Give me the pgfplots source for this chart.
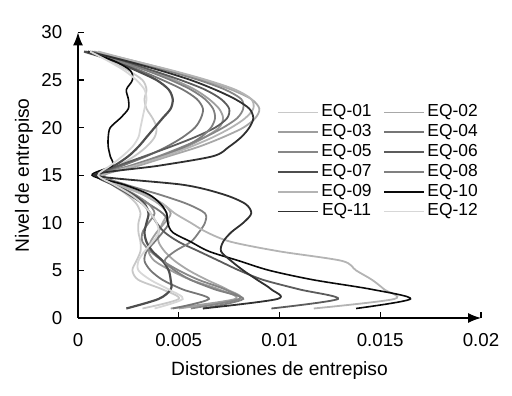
\documentclass[border=0pt]{standalone}
\usepackage{fontspec}
\setmainfont{Liberation Sans}
\usepackage{pgfplots}
\usepackage{pgfplotstable}
\pgfplotsset{compat=1.18}
\usetikzlibrary{arrows.meta}

\definecolor{c01}{RGB}{200,200,200}
\definecolor{c02}{RGB}{168,168,168}
\definecolor{c03}{RGB}{158,158,158}
\definecolor{c04}{RGB}{118,118,118}
\definecolor{c05}{RGB}{135,135,135}
\definecolor{c06}{RGB}{92,92,92}
\definecolor{c07}{RGB}{78,78,78}
\definecolor{c08}{RGB}{128,128,128}
\definecolor{c09}{RGB}{180,180,180}
\definecolor{c10}{RGB}{10,10,10}
\definecolor{c11}{RGB}{48,48,48}
\definecolor{c12}{RGB}{215,215,215}

\pgfplotstableread{
y e01 e02 e03 e04 e05 e06 e07 e08 e09 e10 e11 e12
1 0.0032 0.0050 0.0046 0.0047 0.0056 0.0096 0.0024 0.0062 0.0117 0.0138 0.0062 0.0038
2 0.0050 0.0080 0.0078 0.0065 0.0080 0.0129 0.0040 0.0082 0.0157 0.0165 0.0099 0.0052
3 0.0042 0.0074 0.0070 0.0052 0.0073 0.0110 0.0046 0.0068 0.0152 0.0146 0.0096 0.0045
4 0.0030 0.0064 0.0056 0.0042 0.0060 0.0092 0.0046 0.0056 0.0146 0.0117 0.0089 0.0036
5 0.0027 0.0055 0.0046 0.0036 0.0050 0.0080 0.0045 0.0048 0.0138 0.0095 0.0082 0.0030
6 0.0029 0.0048 0.0038 0.0033 0.0042 0.0070 0.0042 0.0043 0.0131 0.0080 0.0076 0.0030
7 0.0031 0.0043 0.0035 0.0034 0.0036 0.0060 0.0037 0.0048 0.0100 0.0065 0.0071 0.0033
8 0.0031 0.0040 0.0036 0.0038 0.0032 0.0050 0.0034 0.0056 0.0076 0.0056 0.0072 0.0037
9 0.0030 0.0040 0.0039 0.0042 0.0032 0.0043 0.0033 0.0060 0.0064 0.0047 0.0076 0.0040
10 0.0030 0.0042 0.0043 0.0045 0.0035 0.0039 0.0034 0.0063 0.0056 0.00445 0.0082 0.0039
11 0.0031 0.0044 0.0046 0.0042 0.0038 0.0036 0.0035 0.0063 0.0048 0.0044 0.0086 0.0036
12 0.0029 0.0040 0.0042 0.0035 0.0035 0.0032 0.0033 0.0054 0.0042 0.0041 0.0083 0.0032
13 0.0024 0.0032 0.0033 0.0027 0.0028 0.0025 0.0027 0.0040 0.0032 0.0035 0.0072 0.0026
14 0.0017 0.0022 0.0021 0.0018 0.0019 0.0017 0.0018 0.0024 0.0020 0.0023 0.0052 0.0018
15 0.0011 0.0013 0.0012 0.0010 0.0011 0.0009 0.0009 0.0012 0.0012 0.0007 0.0008 0.0010
16 0.0020 0.0030 0.0026 0.0022 0.0026 0.0020 0.0018 0.0028 0.0028 0.0017 0.0040 0.0016
17 0.0028 0.0045 0.0042 0.0034 0.0040 0.0033 0.0025 0.0042 0.0043 0.0016 0.0067 0.0022
18 0.0034 0.0060 0.0054 0.0044 0.0052 0.0046 0.0030 0.0053 0.0056 0.0015 0.0075 0.0027
19 0.0038 0.0072 0.0063 0.0052 0.0063 0.0058 0.0034 0.0061 0.0067 0.0015 0.0081 0.0030
20 0.0039 0.0082 0.0070 0.0058 0.0072 0.0068 0.0038 0.0066 0.0076 0.0016 0.0085 0.0031
21 0.0037 0.0088 0.0072 0.0061 0.0079 0.0074 0.0042 0.0068 0.0083 0.0021 0.0087 0.0032
22 0.0034 0.0090 0.0070 0.0062 0.0082 0.0075 0.0046 0.0067 0.0087 0.0025 0.0085 0.0033
23 0.0033 0.0086 0.0065 0.0059 0.0081 0.0071 0.0047 0.0063 0.0086 0.0025 0.0078 0.0034
24 0.0034 0.0076 0.0058 0.0052 0.0073 0.0063 0.0045 0.0056 0.0078 0.0024 0.0068 0.0033
25 0.0032 0.0062 0.0048 0.0042 0.0060 0.0051 0.0039 0.0046 0.0064 0.0027 0.0056 0.0029
26 0.0025 0.0046 0.0036 0.0031 0.0044 0.0037 0.0029 0.0034 0.0047 0.0026 0.0041 0.0023
27 0.0016 0.0028 0.0022 0.0019 0.0026 0.0022 0.0018 0.0020 0.0028 0.0018 0.0024 0.0015
28 0.0007 0.0008 0.0006 0.0005 0.0006 0.0004 0.0003 0.0007 0.0010 0.0005 0.0005 0.0006
}\drifts

\begin{document}
\begin{tikzpicture}
\path[use as bounding box] (-78pt,-78pt) rectangle (434pt,318pt);
\begin{axis}[
  at={(0pt,0pt)}, anchor=south west,
  scale only axis, width=403pt, height=285.5pt,
  xmin=0, xmax=0.02, ymin=0, ymax=30,
  axis lines=left,
  axis line style={line width=1.2pt, -{Latex[length=13pt,width=10pt]}},
  xtick={0,0.005,0.01,0.015,0.02},
  xticklabels={0,0.005,0.01,0.015,0.02},
  scaled x ticks=false,
  ytick={0,5,10,15,20,25,30},
  tick style={black, line width=1.2pt},
  major tick length=6pt,
  tick align=inside,
  /pgf/number format/assume math mode=true,
  tick label style={font=\fontsize{18.7}{22}\selectfont},
  xticklabel style={inner sep=0pt, anchor=north, yshift=-15.5pt},
  yticklabel style={inner sep=0pt, anchor=east, xshift=-15.5pt},
  label style={font=\fontsize{19.2}{22}\selectfont},
  xlabel={Distorsiones de entrepiso},
  ylabel={Nivel de entrepiso},
  xlabel style={at={(axis description cs:0.5,-0.184)}, anchor=center},
  ylabel style={at={(axis description cs:-0.134,0.5)}, anchor=center},
  every axis plot/.append style={line width=1.8pt, smooth},
  legend columns=2,
  legend image code/.code={\draw[#1] (0pt,0pt) -- (40pt,0pt);},
  legend style={draw=none, fill=none, at={(axis cs:0.00985,22.65)}, anchor=north west,
    font=\fontsize{17.4}{19.8}\selectfont, inner sep=0pt, row sep=0pt,
    nodes={inner xsep=2.5pt, inner ysep=0pt, text height=14.3pt, text depth=5.5pt},
    /tikz/every even column/.append style={column sep=9pt}},
]
\addplot[c01] table[x=e01,y=y]{\drifts};
\addplot[c02] table[x=e02,y=y]{\drifts};
\addplot[c03] table[x=e03,y=y]{\drifts};
\addplot[c04] table[x=e04,y=y]{\drifts};
\addplot[c05] table[x=e05,y=y]{\drifts};
\addplot[c06] table[x=e06,y=y]{\drifts};
\addplot[c07, line width=2.2pt] table[x=e07,y=y]{\drifts};
\addplot[c08] table[x=e08,y=y]{\drifts};
\addplot[c09] table[x=e09,y=y]{\drifts};
\addplot[c10, line width=1.6pt] table[x=e10,y=y]{\drifts};
\addplot[c11] table[x=e11,y=y]{\drifts};
\addplot[c12] table[x=e12,y=y]{\drifts};
\legend{EQ-01,EQ-02,EQ-03,EQ-04,EQ-05,EQ-06,EQ-07,EQ-08,EQ-09,EQ-10,EQ-11,EQ-12}
\end{axis}
\end{tikzpicture}
\end{document}
